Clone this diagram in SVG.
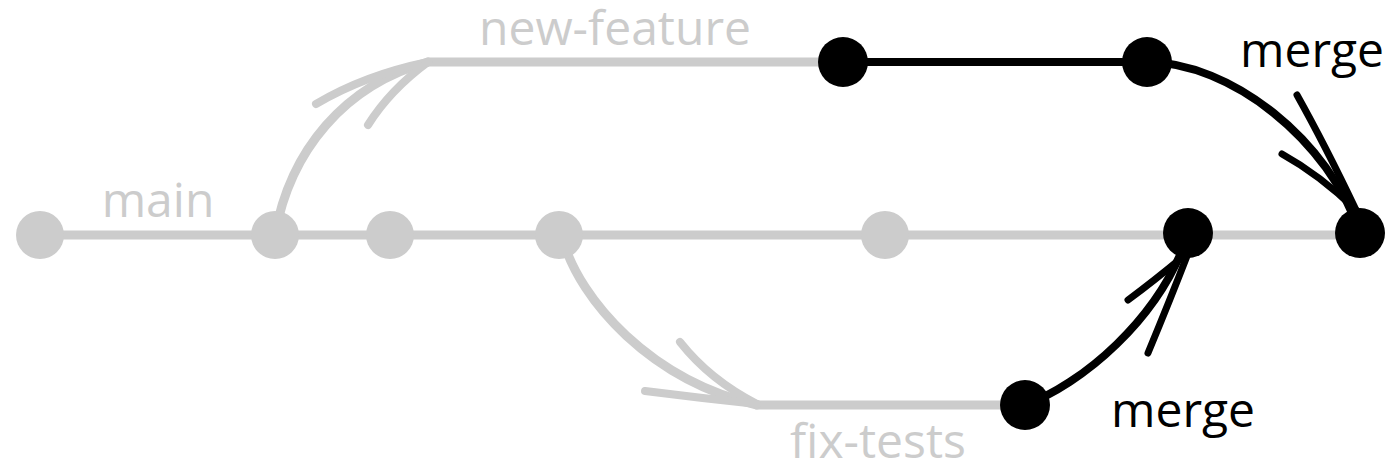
<svg xmlns="http://www.w3.org/2000/svg" width="1400" height="475" viewBox="0 0 1400 475">
<style>
.bg{fill:#ffffff}
.gl{fill:none;stroke:#cccccc;stroke-width:9;stroke-linecap:round}
.bl{fill:none;stroke:#000000;stroke-width:8;stroke-linecap:round}
.gb{fill:none;stroke:#cccccc;stroke-width:8;stroke-linecap:round}
.bb{fill:none;stroke:#000000;stroke-width:7;stroke-linecap:round}
.gn{fill:#cccccc}
.bn{fill:#000000}
.lbl{font-family:"Open Sans","Noto Sans","DejaVu Sans",sans-serif;font-size:48px;text-anchor:middle}
.gt{fill:#cccccc}
.bt{fill:#000000}
</style>
<rect class="bg" x="0" y="0" width="1400" height="475"/>
<g id="connectors">
  <path class="gl" d="M 40 235 L 1360 235"/>
  <path class="gl" d="M 428 62 L 843 62"/>
  <path class="gl" d="M 757 405 L 1025 405"/>
  <path class="bl" d="M 843 62 L 1147 62"/>
  <path class="gl" d="M 275 235 C 290 150, 345 85, 428 62"/>
  <path class="gb" d="M 316 104 Q 365 75 428 62"/>
  <path class="gb" d="M 368 125 Q 390 90 428 62"/>
  <path class="gl" d="M 563 240 C 580 300, 650 380, 757 405"/>
  <path class="gb" d="M 680 342 Q 710 380 757 404"/>
  <path class="gb" d="M 645 391 Q 700 398 757 404"/>
  <path class="bl" d="M 1147 62 C 1230 62, 1330 140, 1360 234"/>
  <path class="bb" d="M 1297 95 Q 1325 145 1356 210"/>
  <path class="bb" d="M 1282 154 Q 1320 175 1356 210"/>
  <path class="bl" d="M 1025 405 C 1080 385, 1160 320, 1188 234"/>
  <path class="bb" d="M 1128 300 Q 1155 280 1185 255"/>
  <path class="bb" d="M 1148 353 Q 1170 300 1187 256"/>
</g>
<g id="node-m1"><circle class="gn" cx="40" cy="235" r="24"/></g>
<g id="node-m2"><circle class="gn" cx="275" cy="235" r="24"/></g>
<g id="node-m3"><circle class="gn" cx="390" cy="235" r="24"/></g>
<g id="node-m4"><circle class="gn" cx="559" cy="235" r="24"/></g>
<g id="node-m5"><circle class="gn" cx="885" cy="235" r="24"/></g>
<g id="node-m6"><circle class="bn" cx="1188" cy="233" r="25"/></g>
<g id="node-m7"><circle class="bn" cx="1360" cy="233" r="25"/></g>
<g id="node-f1"><circle class="bn" cx="843" cy="62" r="25"/></g>
<g id="node-f2"><circle class="bn" cx="1147" cy="62" r="25"/></g>
<g id="node-t1"><circle class="bn" cx="1025" cy="405" r="25"/></g>
<g id="labels">
  <text class="lbl gt" x="615" y="45">new-feature</text>
  <text class="lbl gt" x="158" y="217">main</text>
  <text class="lbl gt" x="878" y="458">fix-tests</text>
  <text class="lbl bt" x="1312" y="67">merge</text>
  <text class="lbl bt" x="1183" y="427">merge</text>
</g>
</svg>
